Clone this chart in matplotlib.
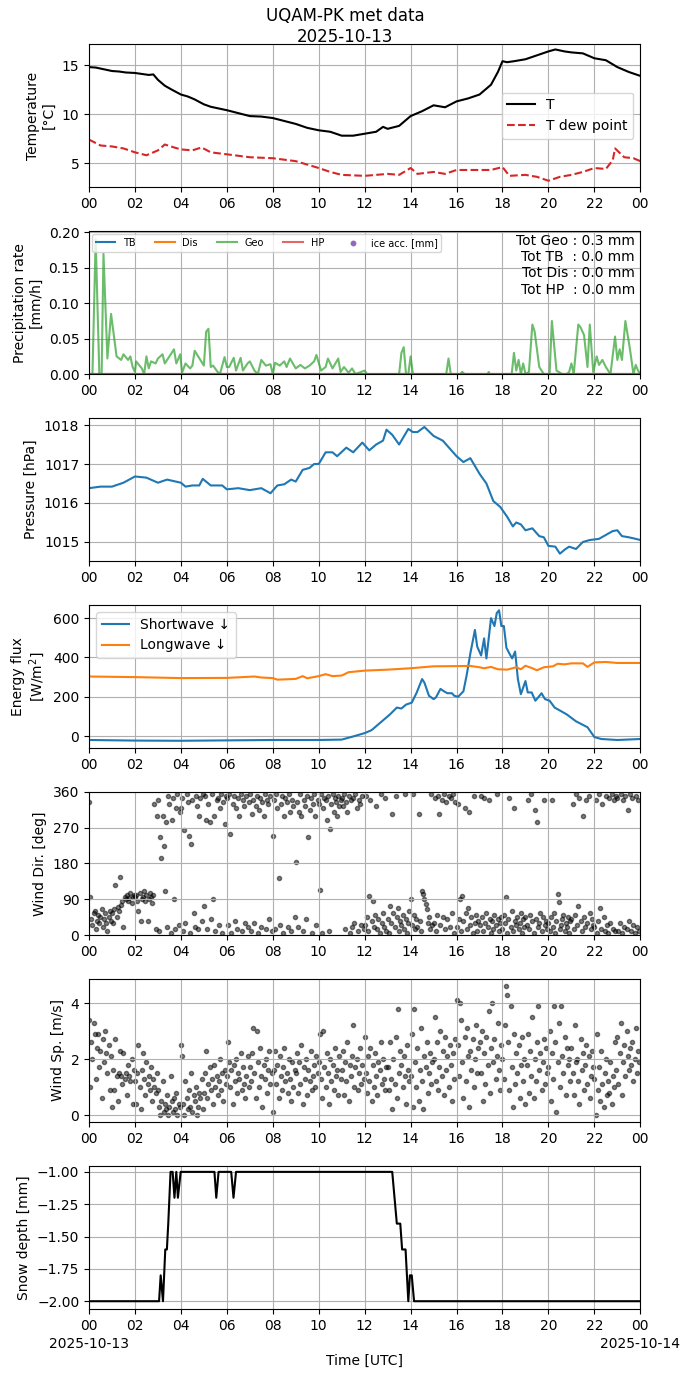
import numpy as np
import matplotlib
matplotlib.use("Agg")
import matplotlib.pyplot as plt
import matplotlib.dates as mdates


# =========================
# Data (hours since 2025-10-13 00 UTC)
# =========================

DAY0 = np.datetime64("2025-10-13T00:00")

t_hours = [0, 0.3, 0.6, 1.0, 1.3, 1.6, 2.0, 2.3, 2.6, 2.8, 3.0, 3.3, 3.6, 4.0, 4.3, 4.6,
           5.0, 5.3, 5.6, 6.0, 6.5, 7.0, 7.5, 8.0, 8.5, 9.0, 9.5, 10.0, 10.5, 11.0,
           11.5, 12.0, 12.5, 12.8, 13.0, 13.5, 14.0, 14.5, 15.0, 15.5, 16.0, 16.5,
           17.0, 17.5, 17.8, 18.0, 18.2, 18.5, 19.0, 19.5, 20.0, 20.3, 20.7, 21.0,
           21.5, 22.0, 22.5, 23.0, 23.5, 24.0]
t_air = [14.8, 14.75, 14.6, 14.4, 14.35, 14.25, 14.2, 14.1, 14.0, 14.05, 13.5, 12.9,
         12.5, 12.0, 11.8, 11.5, 11.0, 10.75, 10.6, 10.4, 10.1, 9.8, 9.75, 9.6, 9.3,
         9.0, 8.6, 8.35, 8.2, 7.8, 7.8, 8.0, 8.2, 8.7, 8.5, 8.8, 9.8, 10.3, 10.9,
         10.7, 11.3, 11.6, 12.0, 13.0, 14.3, 15.4, 15.3, 15.4, 15.6, 16.0, 16.4,
         16.6, 16.4, 16.3, 16.2, 15.7, 15.5, 14.8, 14.3, 13.9]

td_hours = [0, 0.5, 1.0, 1.5, 2.0, 2.5, 3.0, 3.3, 3.7, 4.0, 4.5, 4.9, 5.3, 6.0, 7.0,
            8.0, 9.0, 10.0, 10.5, 11.0, 12.0, 12.5, 13.0, 13.5, 14.0, 14.3, 15.0,
            15.5, 16.0, 17.0, 17.5, 18.0, 18.3, 19.0, 19.5, 20.0, 20.5, 21.0, 21.5,
            22.0, 22.5, 22.8, 22.9, 23.3, 23.7, 24.0]
t_dew = [7.4, 6.8, 6.7, 6.5, 6.1, 5.8, 6.3, 6.9, 6.6, 6.4, 6.3, 6.6, 6.1, 5.9, 5.6,
         5.5, 5.2, 4.5, 4.1, 3.8, 3.7, 3.8, 3.9, 3.8, 4.5, 3.9, 4.1, 3.9, 4.3, 4.3,
         4.3, 4.6, 3.7, 3.8, 3.6, 3.2, 3.6, 3.8, 4.1, 4.5, 4.4, 5.3, 6.5, 5.6, 5.5,
         5.2]

geo_hours = [0, 0.15, 0.29, 0.45, 0.55, 0.63, 0.8, 0.96, 1.2, 1.4, 1.5, 1.7, 1.8,
             1.9, 2.0, 2.05, 2.3, 2.4, 2.5, 2.6, 2.7, 2.9, 3.0, 3.2, 3.3, 3.5, 3.7,
             3.8, 3.97, 4.05, 4.2, 4.4, 4.5, 4.6, 4.85, 5.0, 5.1, 5.2, 5.3, 5.4,
             5.6, 5.7, 5.9, 6.0, 6.1, 6.3, 6.4, 6.6, 6.7, 6.9, 7.0, 7.2, 7.35, 7.5,
             7.7, 7.9, 8.0, 8.1, 8.3, 8.5, 8.6, 8.75, 9.0, 9.2, 9.4, 9.6, 9.8, 9.9,
             10.1, 10.3, 10.4, 10.6, 10.85, 10.95, 11.1, 11.3, 11.45, 11.6, 12.0,
             12.1, 13.5, 13.6, 13.7, 13.8, 13.9, 14.0, 14.1, 15.55, 15.65, 15.75,
             16.15, 16.25, 16.35, 17.35, 17.4, 17.45, 18.4, 18.5, 18.6, 18.7, 18.8,
             18.9, 19.0, 19.15, 19.3, 19.4, 19.6, 19.8, 20.05, 20.15, 20.35, 20.6,
             20.8, 20.9, 21.0, 21.1, 21.3, 21.4, 21.55, 21.7, 21.8, 21.95, 22.1,
             22.2, 22.35, 22.5, 22.7, 22.9, 23.0, 23.1, 23.2, 23.35, 23.55, 23.7,
             23.8, 23.9, 24.0]
geo_rate = [0, 0, 0.19, 0, 0, 0.17, 0.022, 0.085, 0.025, 0.02, 0.028, 0.02, 0.025,
            0.01, 0.003, 0.018, 0.008, 0.0, 0.025, 0.008, 0.018, 0.015, 0.022,
            0.028, 0.015, 0.025, 0.035, 0.015, 0.028, 0.002, 0.015, 0.008, 0.012,
            0.033, 0.02, 0.012, 0.06, 0.064, 0.01, 0.012, 0.003, 0.0, 0.024, 0.01,
            0.01, 0.023, 0.005, 0.023, 0.005, 0.015, 0.018, 0.005, 0.0, 0.02, 0.012,
            0.014, 0.0, 0.016, 0.012, 0.018, 0.01, 0.022, 0.008, 0.013, 0.008,
            0.012, 0.018, 0.027, 0.005, 0.01, 0.022, 0.008, 0.022, 0.003, 0.01,
            0.002, 0.008, 0.0, 0.005, 0.0,
            0.0, 0.03, 0.038, 0.0, 0.0, 0.025, 0.0,
            0.0, 0.022, 0.0,
            0.0, 0.003, 0.0,
            0.0, 0.003, 0.0,
            0.0, 0.03, 0.005, 0.02, 0.0, 0.015, 0.0, 0.003, 0.07, 0.06, 0.01, 0.0,
            0.0, 0.075, 0.005, 0.0, 0.0, 0.003, 0.015, 0.0, 0.07, 0.066, 0.055,
            0.01, 0.07, 0.003, 0.025, 0.013, 0.02, 0.01, 0.0, 0.053, 0.02, 0.035,
            0.02, 0.075, 0.035, 0.0, 0.013, 0.005, 0.0]
tot_geo, tot_tb, tot_dis, tot_hp = 0.3, 0.0, 0.0, 0.0

p_hours = [0, 0.5, 1.0, 1.5, 2.0, 2.5, 3.0, 3.4, 4.0, 4.2, 4.5, 4.8, 4.95, 5.3, 5.8,
           6.0, 6.5, 7.0, 7.5, 7.9, 8.2, 8.5, 8.8, 9.0, 9.3, 9.6, 9.8, 10.0, 10.3,
           10.6, 10.8, 11.2, 11.5, 11.9, 12.2, 12.5, 12.8, 12.95, 13.2, 13.5, 13.9,
           14.1, 14.3, 14.6, 15.0, 15.4, 16.0, 16.3, 16.6, 17.0, 17.3, 17.6, 17.9,
           18.2, 18.45, 18.6, 18.8, 19.0, 19.3, 19.6, 19.8, 20.0, 20.3, 20.5, 20.7,
           20.9, 21.2, 21.5, 21.8, 22.2, 22.5, 22.8, 23.0, 23.2, 23.5, 23.8, 24.0]
pressure = [1016.38, 1016.42, 1016.42, 1016.52, 1016.68, 1016.65, 1016.52, 1016.6,
            1016.52, 1016.42, 1016.45, 1016.45, 1016.62, 1016.45, 1016.45, 1016.35,
            1016.38, 1016.33, 1016.38, 1016.25, 1016.45, 1016.48, 1016.6, 1016.55,
            1016.85, 1016.9, 1017.0, 1017.0, 1017.3, 1017.3, 1017.2, 1017.42, 1017.3,
            1017.55, 1017.35, 1017.5, 1017.6, 1017.88, 1017.75, 1017.5, 1017.9,
            1017.82, 1017.82, 1017.95, 1017.72, 1017.6, 1017.2, 1017.05, 1017.15,
            1016.75, 1016.5, 1016.05, 1015.9, 1015.65, 1015.4, 1015.5, 1015.45,
            1015.3, 1015.35, 1015.15, 1015.12, 1014.9, 1014.88, 1014.7, 1014.8,
            1014.88, 1014.82, 1015.0, 1015.05, 1015.08, 1015.18, 1015.28, 1015.3,
            1015.15, 1015.12, 1015.08, 1015.05]

sw_hours = [0, 2, 4, 6, 8, 10, 11.0, 11.5, 12.0, 12.3, 12.6, 12.9, 13.1, 13.4, 13.6,
            13.8, 14.05, 14.26, 14.5, 14.6, 14.8, 15.0, 15.1, 15.3, 15.45, 15.6,
            15.8, 15.9, 16.07, 16.3, 16.45, 16.6, 16.8, 16.9, 17.07, 17.2, 17.3,
            17.4, 17.5, 17.65, 17.75, 17.85, 17.95, 18.06, 18.17, 18.3, 18.42,
            18.55, 18.67, 18.8, 19.0, 19.1, 19.27, 19.43, 19.55, 19.7, 19.85, 20.05,
            20.27, 20.5, 20.8, 21.2, 21.7, 22.0, 22.3, 23.0, 24.0]
shortwave = [-20, -23, -24, -22, -20, -20, -18, -2, 15, 30, 60, 90, 110, 145, 140,
             160, 170, 220, 290, 272, 205, 188, 196, 240, 228, 218, 218, 205, 200,
             228, 316, 420, 540, 455, 410, 497, 395, 497, 600, 560, 626, 640, 560,
             560, 450, 420, 395, 430, 290, 213, 280, 222, 222, 180, 196, 218, 188,
             180, 145, 130, 110, 75, 45, -5, -15, -20, -15]

lw_hours = [0, 2, 4, 6, 7.2, 7.5, 8.0, 8.2, 9.0, 9.3, 9.5, 10.0, 10.3, 10.6, 11.0,
            11.3, 12.0, 13.0, 14.0, 14.5, 15.0, 16.0, 16.6, 17.0, 17.2, 17.5, 17.8,
            18.2, 18.6, 18.8, 19.0, 19.3, 19.5, 19.8, 20.2, 20.4, 20.7, 21.0, 21.5,
            21.7, 22.0, 22.5, 23.0, 24.0]
longwave = [303, 300, 295, 296, 303, 298, 295, 287, 291, 305, 294, 305, 315, 305,
            308, 325, 333, 338, 345, 350, 355, 356, 357, 350, 345, 352, 340, 338,
            350, 340, 358, 345, 335, 350, 355, 368, 365, 370, 370, 352, 375, 377,
            372, 372]

# wind, 3-minute samples, one row per hour
wind_dir = [
    [335, 95, 40, 25, 55, 60, 15, 35, 50, 30, 45, 65, 20, 40, 55, 30, 10, 45, 60, 35],
    [55, 30, 65, 125, 45, 70, 60, 145, 75, 85, 20, 95, 90, 100, 85, 92, 105, 80, 95, 100],
    [95, 100, 85, 60, 105, 35, 90, 95, 110, 85, 100, 35, 90, 105, 95, 80, 100, 330, 15, 300],
    [340, 10, 247, 195, 300, 225, 110, 285, 20, 350, 330, 5, 290, 345, 90, 15, 320, 355, 25, 310],
    [320, 345, 10, 265, 30, 355, 335, 250, 5, 230, 340, 55, 20, 350, 325, 15, 300, 345, 35, 355],
    [73, 350, 290, 15, 330, 285, 40, 355, 90, 300, 10, 340, 345, 25, 320, 355, 5, 335, 280, 350],
    [345, 25, 355, 253, 5, 330, 350, 35, 320, 15, 345, 300, 355, 10, 340, 325, 30, 350, 20, 335],
    [355, 10, 305, 340, 30, 325, 350, 5, 315, 345, 20, 335, 300, 355, 15, 340, 330, 40, 350, 10],
    [250, 340, 15, 355, 320, 143, 25, 330, 350, 5, 300, 345, 335, 20, 355, 310, 10, 340, 325, 45],
    [183, 335, 20, 310, 355, 300, 10, 340, 325, 40, 350, 246, 315, 345, 5, 330, 355, 300, 25, 340],
    [330, 113, 355, 5, 320, 345, 340, 290, 350, 10, 268, 330, 355, 310, 345, 335, 300, 350, 325, 340],
    [345, 325, 355, 15, 335, 310, 350, 5, 340, 20, 345, 30, 355, 320, 10, 340, 330, 25, 350, 15],
    [25, 350, 45, 10, 98, 340, 35, 86, 20, 50, 325, 15, 40, 5, 355, 30, 55, 20, 345, 10],
    [40, 5, 73, 30, 305, 55, 20, 350, 45, 69, 10, 35, 25, 50, 15, 355, 40, 5, 30, 60],
    [90, 25, 355, 50, 15, 40, 20, 305, 35, 10, 111, 103, 90, 78, 65, 30, 45, 15, 355, 25],
    [30, 345, 10, 50, 350, 305, 25, 340, 45, 355, 15, 335, 40, 350, 20, 345, 55, 355, 5, 335],
    [20, 330, 40, 90, 10, 98, 35, 320, 55, 15, 69, 310, 25, 45, 5, 350, 30, 50, 10, 35],
    [25, 350, 45, 10, 345, 30, 55, 20, 340, 40, 5, 35, 15, 50, 25, 355, 40, 10, 30, 45],
    [15, 50, 30, 95, 5, 40, 345, 20, 60, 10, 320, 35, 25, 45, 15, 30, 55, 5, 40, 20],
    [45, 25, 340, 15, 50, 355, 35, 5, 315, 40, 285, 20, 30, 55, 10, 45, 340, 25, 35, 15],
    [30, 10, 45, 340, 20, 55, 5, 35, 103, 82, 15, 25, 40, 50, 10, 30, 20, 45, 5, 35],
    [40, 330, 15, 50, 355, 25, 73, 345, 35, 10, 300, 45, 20, 340, 30, 350, 55, 15, 40, 25],
    [20, 340, 5, 35, 355, 69, 15, 330, 45, 10, 350, 25, 5, 345, 30, 355, 15, 340, 10, 350],
    [345, 10, 30, 355, 5, 340, 20, 350, 15, 315, 35, 355, 10, 345, 25, 5, 350, 20, 340, 10],
]

wind_speed = [
    [3.4, 1.0, 2.6, 2.0, 3.3, 2.9, 1.3, 2.4, 2.9, 1.7, 2.3, 0.6, 2.7, 1.9, 3.0, 2.2, 1.5, 2.5, 0.9, 2.1],
    [0.3, 1.6, 0.9, 2.7, 1.4, 0.5, 1.5, 2.3, 1.4, 1.1, 2.2, 1.3, 1.5, 0.7, 1.8, 1.4, 1.2, 2.0, 0.4, 1.6],
    [1.2, 0.4, 1.5, 2.5, 1.0, 0.2, 1.6, 2.2, 1.3, 0.7, 1.9, 1.1, 1.4, 0.9, 1.7, 0.5, 1.3, 1.0, 0.8, 1.5],
    [0.9, 0.3, 0.0, 0.5, 1.2, 0.1, 0.4, 0.2, 0.7, 0.0, 0.3, 1.4, 0.5, 0.1, 0.6, 0.2, 0.8, 0.0, 0.4, 0.3],
    [2.5, 2.1, 0.4, 0.0, 1.2, 0.6, 0.2, 0.9, 0.3, 1.5, 0.1, 0.7, 0.5, 1.0, 0.0, 0.3, 0.8, 0.6, 1.3, 0.2],
    [0.8, 1.5, 2.3, 0.6, 1.1, 1.7, 0.9, 1.3, 0.4, 1.8, 1.0, 1.4, 0.7, 1.2, 2.0, 0.9, 1.5, 0.5, 1.6, 1.1],
    [1.4, 2.6, 1.9, 1.0, 1.6, 0.4, 1.8, 1.2, 2.0, 0.8, 1.5, 1.3, 2.2, 0.9, 1.7, 1.1, 0.6, 1.4, 2.1, 1.0],
    [1.7, 1.2, 2.2, 3.1, 1.5, 0.6, 3.0, 1.9, 1.0, 2.4, 1.4, 0.3, 1.8, 1.3, 2.0, 0.8, 1.6, 2.3, 1.1, 1.5],
    [0.1, 1.6, 2.3, 1.1, 1.8, 0.6, 2.1, 1.4, 0.9, 1.7, 2.4, 1.2, 1.5, 0.8, 2.0, 1.3, 0.5, 1.9, 1.0, 1.6],
    [1.5, 2.2, 0.8, 1.9, 1.1, 2.5, 0.4, 1.7, 1.3, 2.0, 0.7, 1.6, 1.2, 2.3, 0.9, 1.4, 1.8, 1.0, 2.1, 1.5],
    [1.9, 2.9, 1.3, 0.6, 3.0, 1.7, 1.0, 2.2, 1.5, 0.4, 2.0, 1.2, 1.8, 0.9, 2.4, 1.4, 1.6, 0.7, 2.1, 1.3],
    [1.6, 2.3, 0.7, 1.9, 1.2, 2.6, 0.5, 1.8, 1.4, 2.1, 3.2, 1.0, 1.7, 2.0, 0.9, 1.5, 2.4, 1.1, 1.8, 1.3],
    [2.8, 1.5, 0.8, 2.1, 1.2, 2.4, 0.5, 1.8, 1.0, 2.2, 1.4, 0.7, 1.9, 1.6, 2.6, 1.1, 2.0, 1.3, 0.9, 1.7],
    [1.7, 0.9, 2.6, 1.3, 0.2, 2.0, 1.1, 2.8, 0.6, 3.8, 1.5, 2.3, 1.8, 1.0, 2.1, 1.4, 0.4, 2.5, 1.6, 1.2],
    [1.4, 2.9, 0.3, 3.8, 1.9, 1.0, 2.4, 0.5, 1.6, 3.1, 1.2, 0.2, 2.1, 1.7, 2.6, 0.8, 1.5, 2.2, 1.1, 1.9],
    [2.0, 3.5, 1.2, 2.6, 0.9, 1.7, 3.0, 1.4, 2.3, 0.7, 2.8, 1.6, 2.1, 1.0, 2.5, 1.8, 0.5, 2.2, 1.3, 2.7],
    [4.1, 2.5, 1.4, 4.0, 3.4, 1.9, 0.6, 2.8, 1.2, 3.1, 2.1, 0.3, 2.3, 1.6, 2.7, 1.0, 2.0, 3.2, 1.5, 2.4],
    [2.6, 1.5, 3.0, 0.5, 2.2, 1.1, 2.8, 1.8, 3.7, 0.8, 2.4, 4.0, 1.9, 2.7, 1.3, 2.1, 3.3, 1.6, 0.9, 2.5],
    [2.0, 1.3, 3.2, 4.6, 4.3, 2.6, 0.9, 3.9, 1.7, 0.3, 2.9, 1.1, 2.2, 1.5, 2.5, 0.6, 1.8, 2.8, 1.2, 2.0],
    [0.4, 1.8, 2.9, 0.8, 2.3, 1.4, 3.5, 0.6, 2.0, 1.2, 2.6, 3.9, 1.6, 2.2, 0.9, 1.9, 2.7, 1.1, 2.4, 1.5],
    [1.7, 3.0, 0.5, 2.2, 1.3, 3.9, 2.6, 0.1, 1.9, 3.3, 1.0, 3.9, 2.1, 1.5, 2.8, 0.7, 2.4, 1.8, 2.0, 1.2],
    [2.4, 1.5, 0.7, 3.2, 1.9, 2.0, 1.2, 0.4, 2.7, 1.6, 2.2, 0.9, 1.8, 2.5, 1.1, 2.1, 0.6, 1.4, 2.3, 1.7],
    [1.3, 0.0, 2.9, 0.9, 1.7, 0.5, 2.3, 1.1, 0.3, 1.5, 2.0, 0.7, 1.2, 0.8, 1.9, 0.4, 1.4, 1.0, 2.6, 1.6],
    [2.8, 1.1, 2.2, 3.3, 0.7, 1.9, 2.5, 1.4, 3.0, 2.1, 1.6, 2.4, 1.8, 2.6, 1.2, 2.0, 3.1, 1.5, 2.3, 1.9],
]

snow_hours = [0, 3.05, 3.12, 3.22, 3.32, 3.39, 3.45, 3.55, 3.64, 3.72, 3.8, 3.87,
              3.99, 5.46, 5.54, 5.64, 6.19, 6.29, 6.4, 13.2, 13.4, 13.55, 13.63,
              13.78, 13.9, 13.97, 14.05, 14.15, 24.0]
snow_depth = [-2.0, -2.0, -1.8, -2.0, -1.6, -1.6, -1.4, -1.0, -1.0, -1.2, -1.0, -1.2,
              -1.0, -1.0, -1.2, -1.0, -1.0, -1.2, -1.0, -1.0, -1.4, -1.4, -1.6, -1.6,
              -2.0, -1.8, -1.8, -2.0, -2.0]

date_labels = ["2025-10-13", "2025-10-14"]


def to_time(hours):
    secs = np.round(np.asarray(hours, dtype=float) * 3600).astype("timedelta64[s]")
    return DAY0 + secs


def sample_times(rows):
    per_hour = len(rows[0])
    n = len(rows) * per_hour
    return DAY0 + np.arange(n) * np.timedelta64(3600 // per_hour, "s")


fig, axes = plt.subplots(7, 1, figsize=(6.9, 13.77))
fig.subplots_adjust(left=0.129, right=0.928, top=0.968, bottom=0.0494, hspace=0.307)
fig.suptitle("UQAM-PK met data\n2025-10-13", y=0.995, fontsize=12)

# temperature
ax = axes[0]
ax.plot(to_time(t_hours), t_air, color="black", lw=1.5, label="T")
ax.plot(to_time(td_hours), t_dew, color="tab:red", lw=1.5, ls="--", label="T dew point")
ax.set_ylim(2.55, 17.15)
ax.set_yticks([5, 10, 15])
ax.set_ylabel("Temperature\n[°C]")
ax.legend(loc="center right")

# precipitation
ax = axes[1]
zero_t = to_time([0, 24])
ax.plot(zero_t, [0, 0], color="tab:blue", lw=1.5, label="TB")
ax.plot(zero_t, [0, 0], color="tab:orange", lw=1.5, label="Dis")
ax.plot(to_time(geo_hours), geo_rate, color="tab:green", alpha=0.7, lw=1.5, label="Geo")
ax.plot(zero_t, [0, 0], color="tab:red", alpha=0.7, lw=1.5, label="HP")
ax.scatter([], [], s=10, color="tab:purple", label="ice acc. [mm]")
ax.set_ylim(0, 0.202)
ax.set_yticks([0, 0.05, 0.10, 0.15, 0.20])
ax.set_ylabel("Precipitation rate\n[mm/h]")
ax.legend(loc="upper left", ncol=5, fontsize=7, borderaxespad=0.3)
ax.text(0.99, 0.98,
        f"Tot Geo : {tot_geo:.1f} mm\nTot TB  : {tot_tb:.1f} mm\n"
        f"Tot Dis : {tot_dis:.1f} mm\nTot HP  : {tot_hp:.1f} mm",
        transform=ax.transAxes, ha="right", va="top", multialignment="right", fontsize=10)

# pressure
ax = axes[2]
ax.plot(to_time(p_hours), pressure, color="tab:blue", lw=1.5)
ax.set_ylim(1014.51, 1018.18)
ax.set_yticks([1015, 1016, 1017, 1018])
ax.set_ylabel("Pressure [hPa]")

# radiation
ax = axes[3]
ax.plot(to_time(sw_hours), shortwave, color="tab:blue", lw=1.5, label="Shortwave ↓")
ax.plot(to_time(lw_hours), longwave, color="tab:orange", lw=1.5, label="Longwave ↓")
ax.set_ylim(-61, 667)
ax.set_yticks([0, 200, 400, 600])
ax.set_ylabel("Energy flux\n[W/m$^2$]")
ax.legend(loc="upper left")

# wind direction
ax = axes[4]
ax.scatter(sample_times(wind_dir), np.ravel(wind_dir), s=9, color="black", alpha=0.5)
ax.set_ylim(0, 360)
ax.set_yticks([0, 90, 180, 270, 360])
ax.set_ylabel("Wind Dir. [deg]")

# wind speed
ax = axes[5]
ax.scatter(sample_times(wind_speed), np.ravel(wind_speed), s=9, color="black", alpha=0.5)
ax.set_ylim(-0.25, 4.86)
ax.set_yticks([0, 2, 4])
ax.set_ylabel("Wind Sp. [m/s]")

# snow depth
ax = axes[6]
ax.plot(to_time(snow_hours), snow_depth, color="black", lw=1.5)
ax.set_ylim(-2.06, -0.954)
ax.set_yticks([-2.0, -1.75, -1.5, -1.25, -1.0])
ax.set_ylabel("Snow depth [mm]")
ax.set_xlabel("Time [UTC]", labelpad=15)

for ax in axes:
    ax.set_xlim(to_time([0])[0], to_time([24])[0])
    ax.xaxis.set_major_locator(mdates.HourLocator(interval=2))
    ax.xaxis.set_major_formatter(mdates.DateFormatter("%H"))
    ax.grid(True)

# dates under the first and last tick of the bottom panel
for xpos, lab in zip([0, 1], date_labels):
    axes[-1].annotate(lab, xy=(xpos, 0), xycoords="axes fraction",
                      xytext=(0, -20), textcoords="offset points",
                      ha="center", va="top", fontsize=10)

fig.savefig("out.png", dpi=100)
